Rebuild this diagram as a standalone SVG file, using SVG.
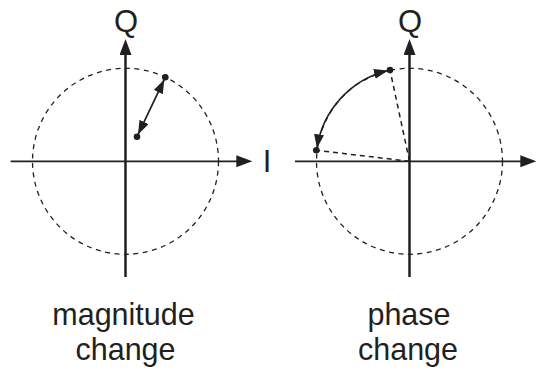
<svg xmlns="http://www.w3.org/2000/svg" width="548" height="375" viewBox="0 0 548 375">
<style>
.axis{stroke:#231f20;fill:none}
.circ{stroke:#231f20;stroke-width:1.3;fill:none;stroke-dasharray:5 4.5}
.rad{stroke:#231f20;stroke-width:1.5;fill:none;stroke-dasharray:5 4}
.vec{stroke:#231f20;stroke-width:1.7;fill:none}
.dot{fill:#231f20}
text{font-family:"Liberation Sans",Arial,sans-serif;fill:#231f20;text-anchor:middle}
.lbl{font-size:31px}
.cap{font-size:30.5px}
</style>
<defs>
<marker id="ax" markerUnits="userSpaceOnUse" markerWidth="18" markerHeight="13" refX="2" refY="6" orient="auto">
<path d="M0,0 L16,6 L0,12 z" fill="#231f20"/>
</marker>
<marker id="sm" markerUnits="userSpaceOnUse" markerWidth="16" markerHeight="11" refX="14" refY="5" orient="auto-start-reverse">
<path d="M0,0 L14,5 L0,10 z" fill="#231f20"/>
</marker>
</defs>

<g id="magnitude-plot">
<circle class="circ" cx="125.5" cy="161.3" r="93"/>
<line class="axis" x1="10.7" y1="161.3" x2="238.3" y2="161.3" stroke-width="1.7" marker-end="url(#ax)"/>
<line class="axis" x1="125.5" y1="277" x2="125.5" y2="53" stroke-width="2.5" marker-end="url(#ax)"/>
<text class="lbl" x="126" y="31.5">Q</text>
<text class="lbl" x="267" y="172" font-size="33px">I</text>
</g>

<g id="phase-plot">
<circle class="circ" cx="409.5" cy="161.3" r="93"/>
<line class="axis" x1="295" y1="161.3" x2="522.3" y2="161.3" stroke-width="1.7" marker-end="url(#ax)"/>
<line class="axis" x1="409.5" y1="277" x2="409.5" y2="53" stroke-width="2.5" marker-end="url(#ax)"/>
<text class="lbl" x="410" y="31.5">Q</text>
<line class="rad" x1="409.5" y1="161.3" x2="390" y2="70"/>
<line class="rad" x1="409.5" y1="161.3" x2="316.3" y2="150.3"/>
</g>

<g id="connectors">
<line class="vec" x1="138" y1="134.6" x2="164.3" y2="79.4" marker-start="url(#sm)" marker-end="url(#sm)"/>
<path class="vec" d="M 388,70.5 A 94 94 0 0 0 317,148.3" marker-start="url(#sm)" marker-end="url(#sm)"/>
</g>

<g id="dots">
<circle class="dot" cx="165.3" cy="77.3" r="3.3"/>
<circle class="dot" cx="137" cy="136.7" r="3.3"/>
<circle class="dot" cx="390" cy="70" r="3.3"/>
<circle class="dot" cx="316.3" cy="150.3" r="3.3"/>
</g>

<g id="captions">
<text class="cap" x="123.5" y="325">magnitude</text>
<text class="cap" x="125.5" y="360">change</text>
<text class="cap" x="409" y="325">phase</text>
<text class="cap" x="408" y="360">change</text>
</g>
</svg>
